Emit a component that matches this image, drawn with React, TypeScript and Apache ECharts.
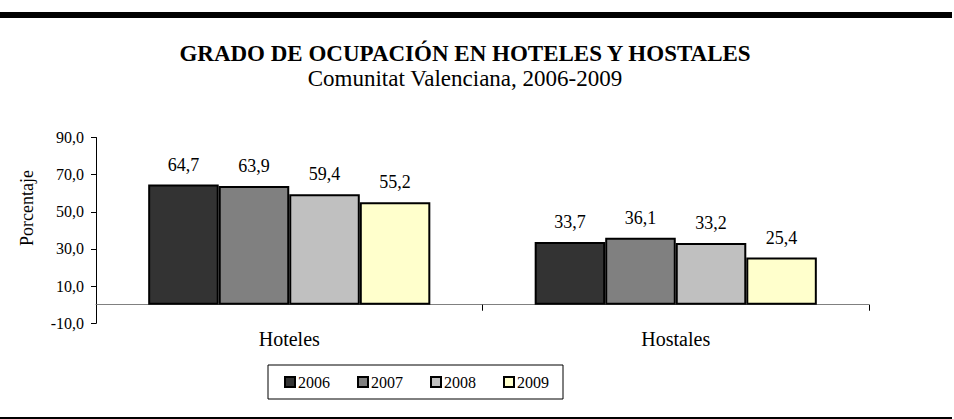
import React, { useEffect, useRef } from "react";
import * as echarts from "echarts";

const categories = ["Hoteles", "Hostales"];
const years = ["2006", "2007", "2008", "2009"];
const values2006 = [64.7, 33.7];
const values2007 = [63.9, 36.1];
const values2008 = [59.4, 33.2];
const values2009 = [55.2, 25.4];
const seriesValues = [values2006, values2007, values2008, values2009];
const colors = ["#333333", "#808080", "#C0C0C0", "#FFFFCC"];

const FONT = "'Liberation Serif', 'Times New Roman', serif";
const fmt = (v: number) => v.toFixed(1).replace(".", ",");

export default function App() {
  const ref = useRef<HTMLDivElement>(null);
  useEffect(() => {
    if (!ref.current) return;
    const chart = echarts.init(ref.current, undefined, { renderer: "svg" });
    chart.setOption({
      animation: false,
      backgroundColor: "#ffffff",
      textStyle: { fontFamily: FONT, color: "#000" },
      title: [
        {
          text: "GRADO DE OCUPACIÓN EN HOTELES Y HOSTALES",
          left: 465,
          textAlign: "center",
          top: 43,
          padding: 0,
          textStyle: { fontFamily: FONT, fontSize: 23, lineHeight: 21, fontWeight: "bold", color: "#000" },
        },
        {
          text: "Comunitat Valenciana, 2006-2009",
          left: 465,
          textAlign: "center",
          top: 68,
          padding: 0,
          textStyle: { fontFamily: FONT, fontSize: 23, lineHeight: 21, fontWeight: "normal", color: "#000" },
        },
      ],
      graphic: [
        { type: "rect", shape: { x: 0, y: 12, width: 952, height: 6 }, style: { fill: "#000" } },
        { type: "rect", shape: { x: 0, y: 417, width: 952, height: 2 }, style: { fill: "#000" } },
        {
          type: "text",
          x: 27,
          y: 208,
          rotation: Math.PI / 2,
          style: {
            text: "Porcentaje",
            fontFamily: FONT,
            fontSize: 18,
            fill: "#000",
            align: "center",
            verticalAlign: "middle",
          },
        },
      ],
      legend: {
        data: years,
        left: 268,
        top: 365,
        padding: [9, 14, 9, 16],
        borderColor: "#000",
        borderWidth: 1,
        itemWidth: 10,
        itemHeight: 10,
        itemGap: 27,
        icon: "rect",
        textStyle: { fontFamily: FONT, fontSize: 16, color: "#000", padding: [0, 0, 0, -2] },
      },
      grid: { left: 96, right: 85, top: 137.5, bottom: 95.7, containLabel: false },
      xAxis: {
        type: "category",
        data: categories,
        axisLine: { onZero: true, lineStyle: { color: "#808080", width: 1 } },
        axisTick: { show: true, length: 6, lineStyle: { color: "#000" } },
        axisLabel: { fontFamily: FONT, fontSize: 20, color: "#000", margin: 6 },
      },
      yAxis: {
        type: "value",
        min: -10,
        max: 90,
        interval: 20,
        splitLine: { show: false },
        axisLine: { show: true, lineStyle: { color: "#000", width: 1 } },
        axisTick: { show: true, length: 5, lineStyle: { color: "#000" } },
        axisLabel: {
          fontFamily: FONT,
          fontSize: 16,
          color: "#000",
          margin: 12,
          formatter: (v: number) => fmt(v),
        },
      },
      series: years.map((y, i) => ({
        name: y,
        type: "bar",
        data: seriesValues[i],
        barGap: "0%",
        barCategoryGap: "27%",
        itemStyle: { color: colors[i], borderColor: "#000", borderWidth: 2 },
        label: {
          show: true,
          position: "top",
          distance: 11,
          fontFamily: FONT,
          fontSize: 18,
          color: "#000",
          formatter: (p: any) => fmt(p.value),
        },
      })),
    });
    return () => chart.dispose();
  }, []);
  return <div ref={ref} style={{ width: 954, height: 419, position: "absolute", left: 0, top: 0 }} />;
}
